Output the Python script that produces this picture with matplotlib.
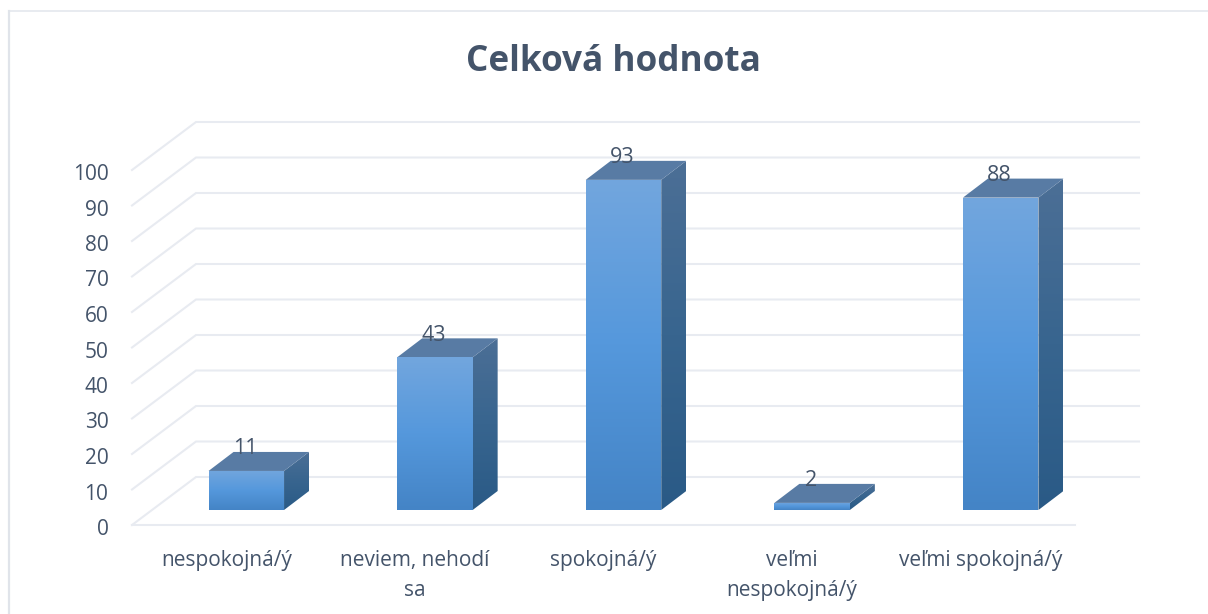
import numpy as np
import matplotlib
matplotlib.use("Agg")
import matplotlib.pyplot as plt
from matplotlib.colors import LinearSegmentedColormap
from matplotlib.lines import Line2D
from matplotlib.patches import Polygon
from matplotlib.transforms import ScaledTranslation

# data
categories = ["nespokojná/ý", "neviem, nehodí\nsa", "spokojná/ý", "veľmi\nnespokojná/ý", "veľmi spokojná/ý"]
values = [11, 43, 93, 2, 88]
y_ticks = [0, 10, 20, 30, 40, 50, 60, 70, 80, 90, 100]

W, H = 1208, 614
TEXT = "#44546a"
GRID = "#e8ebf1"

plt.rcParams["font.family"] = ["Open Sans", "DejaVu Sans"]

fig = plt.figure(figsize=(W / 100, H / 100), dpi=100)
fig.patch.set_facecolor("white")

# plot area is the front edge of the floor, 132..1075 px wide, 0 at y=525 and 100 at y=170
ax = fig.add_axes([132 / W, 1 - 525 / H, 943 / W, 355 / H])
ax.set_xlim(-0.5, 4.5)
ax.set_ylim(0, 100)
ax.patch.set_alpha(0)
for s in ax.spines.values():
    s.set_visible(False)

px_x = 5 / 943    # one pixel in x units
px_y = 100 / 355  # one pixel in y units

# wall + floor gridlines
dx_wall = 64 * px_x
dy_wall = 48 * px_y
for v in y_ticks:
    ax.plot([-0.5, -0.5 + dx_wall, 4.5 + dx_wall], [v, v + dy_wall, v + dy_wall],
            color=GRID, lw=1.5, clip_on=False, zorder=1, solid_joinstyle="miter")
ax.plot([-0.5, 4.5], [0, 0], color=GRID, lw=1.5, clip_on=False, zorder=1)

# colour ramps for the bar faces
front_cm = LinearSegmentedColormap.from_list("front", ["#72a6de", "#5598dc", "#4484c6"])
side_cm = LinearSegmentedColormap.from_list("side", ["#4c6f96", "#38658f", "#2a5a86"])
top_colour = "#587ba4"

bar_w = 75.5 * px_x
shift_x = 20 * px_x     # bars stand a bit back from the floor edge
base = 15 * px_y
depth_x = 25 * px_x
depth_y = 19 * px_y
grad = np.linspace(0, 1, 256).reshape(-1, 1)


def face(xs, ys, cmap, z):
    poly = Polygon(list(zip(xs, ys)), closed=True, transform=ax.transData, facecolor="none",
                   edgecolor="none", clip_on=False)
    ax.add_patch(poly)
    im = ax.imshow(grad, cmap=cmap, aspect="auto", origin="upper", zorder=z,
                   extent=[min(xs), max(xs), min(ys), max(ys)])
    # the side of tall bars goes over the top of the axes
    im.set_clip_box(fig.bbox)
    im.set_clip_path(poly)


for i, v in enumerate(values):
    x0 = i + shift_x - bar_w / 2
    x1 = x0 + bar_w
    y0 = base
    y1 = base + v
    # right side
    face([x1, x1 + depth_x, x1 + depth_x, x1],
         [y0, y0 + depth_y, y1 + depth_y, y1], side_cm, 3)
    # top
    ax.add_patch(Polygon([(x0, y1), (x1, y1), (x1 + depth_x, y1 + depth_y), (x0 + depth_x, y1 + depth_y)],
                         closed=True, facecolor=top_colour, edgecolor="none", zorder=3, clip_on=False))
    # front
    face([x0, x1, x1, x0], [y0, y0, y1, y1], front_cm, 4)
    ax.text((x0 + x1) / 2 - 1 * px_x, y1 + 22 * px_y, str(v), ha="center", va="center",
            fontsize=15.5, color=TEXT, zorder=6, clip_on=False)

ax.set_xlim(-0.5, 4.5)
ax.set_ylim(0, 100)

ax.set_yticks(y_ticks)
ax.set_xticks(range(len(categories)))
ax.set_xticklabels(categories, fontsize=15, color=TEXT, linespacing=1.55, va="top")
ax.tick_params(axis="y", length=0, pad=17, labelsize=15, labelcolor=TEXT)
ax.tick_params(axis="x", length=0, pad=18)

# y labels sit 2 px lower than the tick position
down = ScaledTranslation(0, -2 / 100, fig.dpi_scale_trans)
for lab in ax.get_yticklabels():
    lab.set_transform(lab.get_transform() + down)

fig.text(613 / W, 1 - 62 / H, "Celková hodnota", ha="center", va="center",
         fontsize=25.3, fontweight="bold", color=TEXT)

# chart frame: only the top and left edges show
fig.add_artist(Line2D([9 / W, 1], [1 - 10.5 / H, 1 - 10.5 / H], transform=fig.transFigure,
                      color="#e4e7ee", lw=1.2))
fig.add_artist(Line2D([9 / W, 9 / W], [0, 1 - 10.5 / H], transform=fig.transFigure,
                      color="#e0e4ea", lw=1.6))

fig.savefig("out.png", dpi=100)
